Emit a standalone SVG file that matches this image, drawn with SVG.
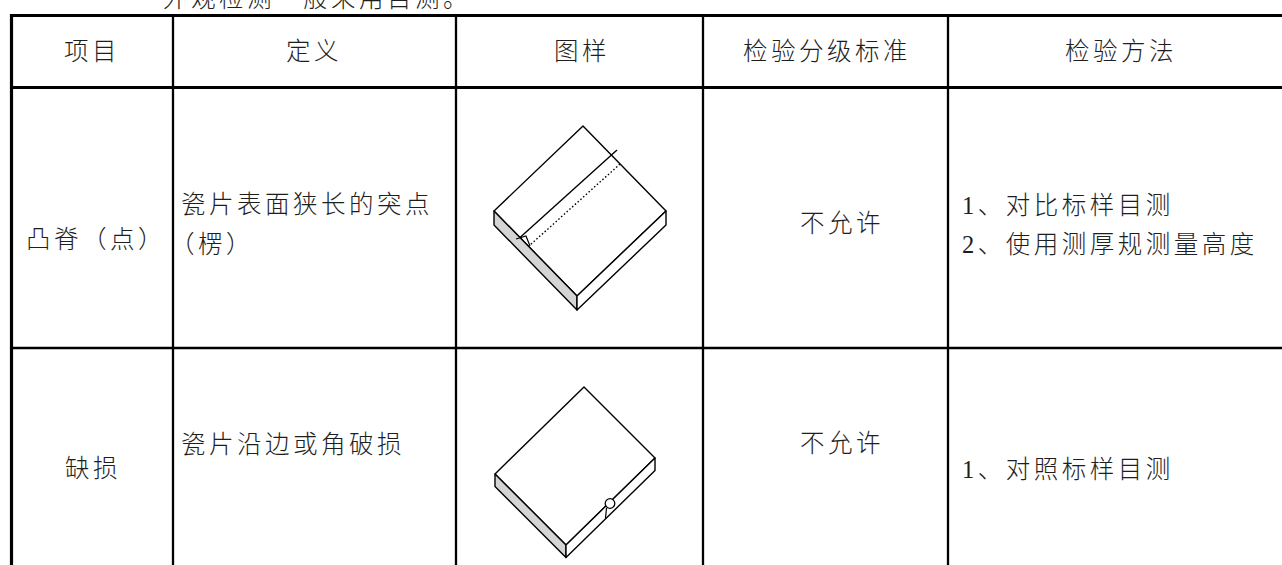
<svg xmlns="http://www.w3.org/2000/svg" width="1282" height="565" viewBox="0 0 1282 565">
<style>
.t{font-family:"Liberation Serif","Noto Sans CJK SC","Noto Sans CJK JP",sans-serif;font-size:24.5px;font-weight:300;letter-spacing:3.5px;fill:#1e1e1e}
.g{stroke:#000;fill:none}
.thick{stroke-width:3.2}
.thin{stroke-width:2.3}
.fig{stroke:#000;stroke-width:1.4;stroke-linejoin:round;fill:#fff}
.shade{fill:#d4d4d4}
</style>
<rect x="0" y="0" width="1282" height="565" fill="#fff"/>
<text class="t" x="163" y="7">外观检测一般采用目测。</text>
<g id="grid" class="g">
  <line class="thick" x1="10" y1="15.5" x2="1282" y2="15.5"/>
  <line class="thick" x1="11.5" y1="14" x2="11.5" y2="565"/>
  <line class="thick" x1="10" y1="87.5" x2="1282" y2="87.5"/>
  <line class="thin" x1="10" y1="348" x2="1282" y2="348"/>
  <line class="thin" x1="173" y1="15" x2="173" y2="565"/>
  <line class="thin" x1="456" y1="15" x2="456" y2="565"/>
  <line class="thin" x1="703" y1="15" x2="703" y2="565"/>
  <line class="thin" x1="948" y1="15" x2="948" y2="565"/>
</g>
<g id="header">
  <text class="t" x="64" y="60">项目</text>
  <text class="t" x="286" y="60">定义</text>
  <text class="t" x="554" y="60">图样</text>
  <text class="t" x="743" y="60">检验分级标准</text>
  <text class="t" x="1065" y="60">检验方法</text>
</g>
<g id="row1">
  <text class="t" x="26" y="248">凸脊（点）</text>
  <text class="t" x="181" y="213">瓷片表面狭长的突点</text>
  <text class="t" x="170" y="253">（楞）</text>
  <text class="t" x="800" y="232">不允许</text>
  <text class="t" x="962" y="214">1、对比标样目测</text>
  <text class="t" x="962" y="253">2、使用测厚规测量高度</text>
</g>
<g id="figure1">
  <polygon class="fig" points="583,126 666,211 577,296 494,211"/>
  <polygon class="fig shade" points="494,211 577,296 577,310 494,225"/>
  <polygon class="fig" points="577,296 666,211 666,225 577,310"/>
  <line x1="620" y1="164" x2="529" y2="246" stroke="#000" stroke-width="1.4" stroke-dasharray="1.5,2.2"/>
  <line x1="617" y1="150" x2="520" y2="237.6" stroke="#000" stroke-width="1.4"/>
  <path d="M516,239 L526,236 L530,246" fill="none" stroke="#000" stroke-width="1.2"/>
</g>
<g id="row2">
  <text class="t" x="65" y="477">缺损</text>
  <text class="t" x="181" y="453">瓷片沿边或角破损</text>
  <text class="t" x="800" y="452">不允许</text>
  <text class="t" x="962" y="478">1、对照标样目测</text>
</g>
<g id="figure2">
  <polygon class="fig" points="584,387 655,458 566,545 495,474"/>
  <polygon class="fig shade" points="495,474 566,545 566,557.5 495,486.5"/>
  <polygon class="fig" points="566,545 655,458 655,470.5 566,557.5"/>
  <path d="M606.5,508 L605.5,518" fill="none" stroke="#000" stroke-width="1.2"/>
  <circle cx="610" cy="503.5" r="4.8" fill="#fff" stroke="#000" stroke-width="1.3"/>
</g>
</svg>
